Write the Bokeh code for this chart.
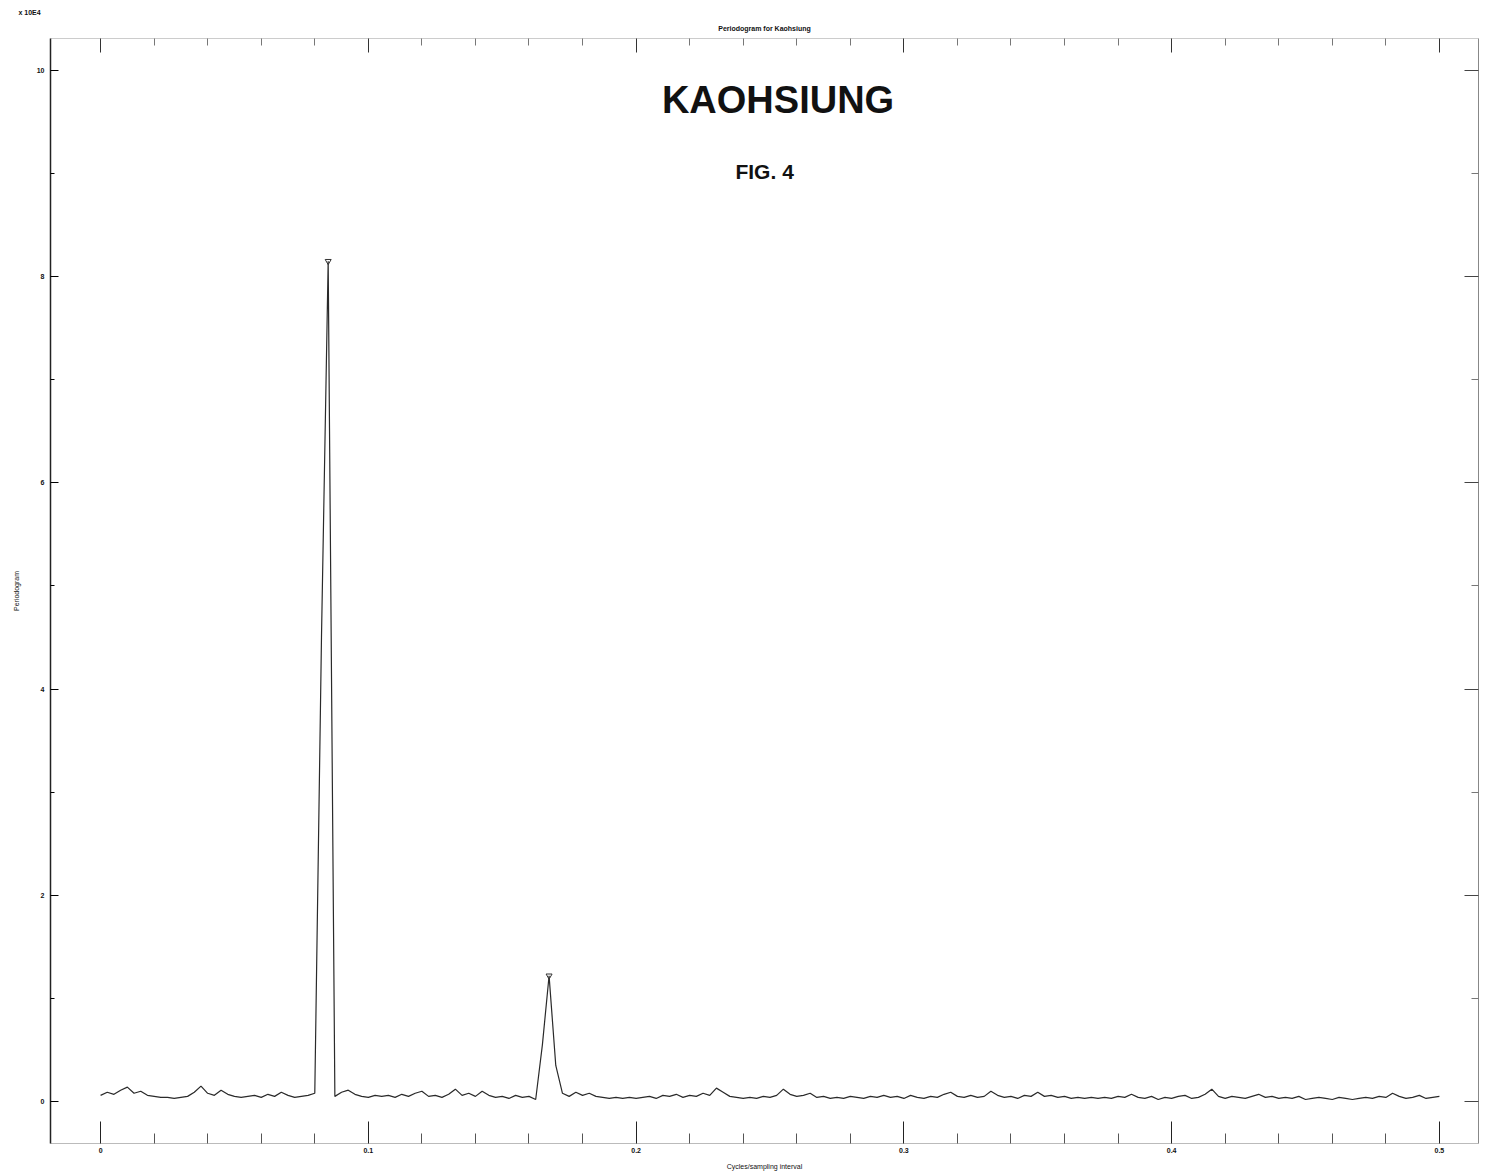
from bokeh.plotting import figure
from bokeh.models import (Range1d, FixedTicker, LinearAxis, Label, Title,
                          ColumnDataSource, CustomJSTickFormatter)
from bokeh.embed import file_html
from bokeh.resources import INLINE

# ---------------- data ----------------
n_bins = 400  # frequency step = 1/400 cycles per sampling interval
periodogram = [
    0.06, 0.09, 0.07, 0.11, 0.14, 0.08, 0.10, 0.06, 0.05, 0.04,
    0.04, 0.03, 0.04, 0.05, 0.09, 0.15, 0.08, 0.06, 0.11, 0.07,
    0.05, 0.04, 0.05, 0.06, 0.04, 0.07, 0.05, 0.09, 0.06, 0.04,
    0.05, 0.06, 0.08, 4.50, 8.15, 0.05, 0.09, 0.11, 0.07, 0.05,
    0.04, 0.06, 0.05, 0.06, 0.04, 0.07, 0.05, 0.08, 0.10, 0.05,
    0.06, 0.04, 0.07, 0.12, 0.06, 0.08, 0.05, 0.10, 0.06, 0.04,
    0.05, 0.03, 0.06, 0.04, 0.05, 0.02, 0.55, 1.22, 0.35, 0.08,
    0.05, 0.09, 0.06, 0.08, 0.05, 0.04, 0.03, 0.04, 0.03, 0.04,
    0.03, 0.04, 0.05, 0.03, 0.06, 0.05, 0.07, 0.04, 0.06, 0.05,
    0.08, 0.06, 0.13, 0.09, 0.05, 0.04, 0.03, 0.04, 0.03, 0.05,
    0.04, 0.06, 0.12, 0.07, 0.05, 0.06, 0.08, 0.04, 0.05, 0.03,
    0.04, 0.03, 0.05, 0.04, 0.03, 0.05, 0.04, 0.06, 0.04, 0.05,
    0.03, 0.06, 0.04, 0.03, 0.05, 0.04, 0.07, 0.09, 0.05, 0.04,
    0.06, 0.04, 0.05, 0.10, 0.06, 0.04, 0.05, 0.03, 0.06, 0.05,
    0.09, 0.05, 0.06, 0.04, 0.05, 0.03, 0.04, 0.03, 0.04, 0.03,
    0.04, 0.03, 0.05, 0.04, 0.07, 0.04, 0.03, 0.05, 0.02, 0.04,
    0.03, 0.05, 0.06, 0.03, 0.04, 0.07, 0.12, 0.05, 0.03, 0.05,
    0.04, 0.03, 0.05, 0.07, 0.04, 0.05, 0.03, 0.04, 0.03, 0.05,
    0.02, 0.03, 0.04, 0.03, 0.02, 0.04, 0.03, 0.02, 0.03, 0.04,
    0.03, 0.05, 0.04, 0.08, 0.05, 0.03, 0.04, 0.06, 0.03, 0.04,
    0.05,
]
frequency = [k / n_bins for k in range(len(periodogram))]

x_major_ticks = [0.0, 0.1, 0.2, 0.3, 0.4, 0.5]
x_minor_ticks = [0.02, 0.04, 0.06, 0.08, 0.12, 0.14, 0.16, 0.18,
                 0.22, 0.24, 0.26, 0.28, 0.32, 0.34, 0.36, 0.38,
                 0.42, 0.44, 0.46, 0.48]
y_major_ticks = [0, 2, 4, 6, 8, 10]
y_minor_ticks = [1, 3, 5, 7, 9]

main_title = "KAOHSIUNG"
fig_label = "FIG. 4"
top_title = "Periodogram for Kaohsiung"
x_title = "Cycles/sampling interval"
y_title = "Periodogram"
scale_note = "x 10E4"

# local peaks above 1 get a marker
peak_idx = [i for i in range(1, len(periodogram) - 1)
            if periodogram[i] > 1 and periodogram[i] > periodogram[i - 1]
            and periodogram[i] > periodogram[i + 1]]
peak_f = [frequency[i] for i in peak_idx]
peak_v = [periodogram[i] for i in peak_idx]

# ---------------- figure ----------------
FONT = "Liberation Sans"
p = figure(frame_width=1428, frame_height=1105,
           x_range=Range1d(-0.0187, 0.5146), y_range=Range1d(-0.407, 10.31),
           output_backend="svg", toolbar_location=None,
           x_axis_location="below", y_axis_location="left",
           min_border_left=50, min_border_top=38, min_border_right=6,
           min_border_bottom=20)
p.background_fill_color = "white"
p.border_fill_color = "white"
p.outline_line_color = None
p.grid.visible = False

# bottom axis
xa = p.xaxis[0]
xa.ticker = FixedTicker(ticks=x_major_ticks, minor_ticks=x_minor_ticks)
xa.formatter = CustomJSTickFormatter(code="return tick == 0 ? '0' : tick.toFixed(1);")
xa.major_tick_in = 22
xa.major_tick_out = 0
xa.minor_tick_in = 10
xa.minor_tick_out = 0
xa.axis_line_color = "#bbbbbb"
xa.major_tick_line_color = "#222222"
xa.minor_tick_line_color = "#555555"
xa.major_label_text_font_size = "7px"
xa.major_label_text_font = FONT
xa.major_label_text_font_style = "bold"
xa.major_label_text_color = "#111111"
xa.major_label_standoff = 4
xa.axis_label = x_title
xa.axis_label_text_font_size = "7px"
xa.axis_label_text_font = FONT
xa.axis_label_text_font_style = "normal"
xa.axis_label_text_color = "#111111"
xa.axis_label_standoff = 7

# left axis
ya = p.yaxis[0]
ya.ticker = FixedTicker(ticks=y_major_ticks, minor_ticks=y_minor_ticks)
ya.major_tick_in = 8
ya.major_tick_out = 0
ya.minor_tick_in = 4
ya.minor_tick_out = 0
ya.axis_line_color = "#222222"
ya.axis_line_width = 1.5
ya.major_label_text_font_size = "7px"
ya.major_label_text_font = FONT
ya.major_label_text_font_style = "bold"
ya.major_label_text_color = "#111111"
ya.major_label_standoff = 6
ya.axis_label = y_title
ya.axis_label_text_font_size = "7px"
ya.axis_label_text_font = FONT
ya.axis_label_text_font_style = "normal"
ya.axis_label_text_color = "#111111"
ya.axis_label_standoff = 14

# top axis (ticks only)
ta = LinearAxis(ticker=FixedTicker(ticks=x_major_ticks, minor_ticks=x_minor_ticks),
                major_tick_in=14, major_tick_out=0, minor_tick_in=7, minor_tick_out=0,
                axis_line_color="#cccccc", major_tick_line_color="#333333",
                minor_tick_line_color="#777777", major_label_text_alpha=0,
                major_label_text_font_size="1px")
p.add_layout(ta, "above")

# right axis (ticks only)
ra = LinearAxis(ticker=FixedTicker(ticks=y_major_ticks, minor_ticks=y_minor_ticks),
                major_tick_in=14, major_tick_out=0, minor_tick_in=7, minor_tick_out=0,
                axis_line_color="#888888", major_tick_line_color="#444444",
                minor_tick_line_color="#777777", major_label_text_alpha=0,
                major_label_text_font_size="1px")
p.add_layout(ra, "right")

# small header title (closest to the frame), then the scale note at the top-left
p.add_layout(Title(text=top_title, align="center", text_font_size="7px",
                   text_font=FONT, text_font_style="bold", text_color="#111111",
                   standoff=14), "above")
p.add_layout(Title(text=scale_note, align="left", offset=-32, text_font_size="7px",
                   text_font=FONT, text_font_style="bold", text_color="#111111",
                   standoff=0), "above")

# data
src = ColumnDataSource(dict(f=frequency, v=periodogram))
p.line("f", "v", source=src, line_color="#2a2a2a", line_width=1.2)
p.scatter(peak_f, peak_v, marker="inverted_triangle", size=6,
          fill_color=None, line_color="#333333", line_width=1)

# in-plot titles
p.add_layout(Label(x=0.253, y=9.71, text=main_title, text_align="center",
                   text_baseline="middle", text_font=FONT, text_font_style="bold",
                   text_font_size="38px", text_color="#111111"))
p.add_layout(Label(x=0.248, y=9.02, text=fig_label, text_align="center",
                   text_baseline="middle", text_font=FONT, text_font_style="bold",
                   text_font_size="21px", text_color="#111111"))

open("out.html", "w").write(file_html(p, INLINE))
